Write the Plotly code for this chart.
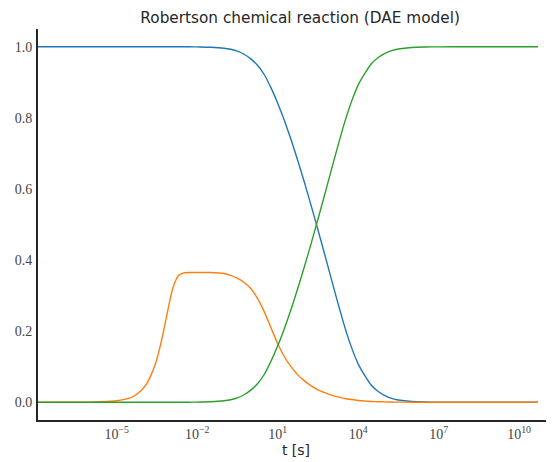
import plotly.graph_objects as go

# log10 of time points [s]
log_t = [-7.93, -7, -6, -5, -4.5, -4.25, -4, -3.85, -3.7, -3.55, -3.4, -3.25, -3.15, -3, -2.9, -2.82,
         -2.7, -2.5, -2.3, -2, -1.5, -1, -0.75, -0.5, -0.25, 0, 0.25, 0.5, 0.75, 1, 1.25, 1.5, 1.75,
         2, 2.25, 2.5, 2.75, 3, 3.25, 3.5, 3.75, 4, 4.25, 4.5, 4.75, 5, 5.25, 5.5,
         6, 6.5, 7, 8, 9, 10, 10.7]
t = [10 ** k for k in log_t]

y1 = [1.0, 1.0, 1.0, 1.0, 1.0, 1.0, 1.0, 1.0, 1.0, 1.0, 1.0, 1.0, 1.0, 1.0, 1.0, 1.0,
      1.0, 1.0, 1.0, 0.9996, 0.9988, 0.996, 0.993, 0.988, 0.979, 0.966, 0.948, 0.922, 0.885, 0.842, 0.793, 0.739, 0.680,
      0.618, 0.553, 0.486, 0.417, 0.347, 0.278, 0.212, 0.155, 0.108, 0.075, 0.047, 0.030, 0.0185, 0.011, 0.0064,
      0.0021, 0.0007, 0.0002, 0.0, 0.0, 0.0, 0.0]

y2_scaled = [0.0, 0.0, 0.0004, 0.004, 0.012, 0.0225, 0.040, 0.056, 0.079, 0.109, 0.150, 0.200, 0.238, 0.292, 0.322, 0.339,
             0.356, 0.364, 0.365, 0.365, 0.365, 0.362, 0.357, 0.349, 0.337, 0.320, 0.292, 0.255, 0.210, 0.165, 0.128, 0.100, 0.077,
             0.060, 0.046, 0.035, 0.027, 0.020, 0.015, 0.0105, 0.0075, 0.0050, 0.0033, 0.0022, 0.0014, 0.0009, 0.0005, 0.0003,
             0.0001, 0.0, 0.0, 0.0, 0.0, 0.0, 0.0]

y3 = [0.0, 0.0, 0.0, 0.0, 0.0, 0.0, 0.0, 0.0, 0.0, 0.0, 0.0, 0.0, 0.0, 0.0, 0.0, 0.0,
      0.0, 0.0, 0.0, 0.0004, 0.0012, 0.004, 0.007, 0.012, 0.021, 0.034, 0.052, 0.078, 0.115, 0.158, 0.207, 0.261, 0.320,
      0.382, 0.447, 0.514, 0.583, 0.653, 0.722, 0.788, 0.845, 0.892, 0.925, 0.953, 0.970, 0.9815, 0.989, 0.9936,
      0.998, 0.9993, 0.9998, 1.0, 1.0, 1.0, 1.0]

x_tickvals = [1e-5, 1e-2, 1e1, 1e4, 1e7, 1e10]
x_ticktext = ["10<sup>−5</sup>", "10<sup>−2</sup>", "10<sup>1</sup>",
              "10<sup>4</sup>", "10<sup>7</sup>", "10<sup>10</sup>"]
y_tickvals = [0.0, 0.2, 0.4, 0.6, 0.8, 1.0]
y_ticktext = ["0.0", "0.2", "0.4", "0.6", "0.8", "1.0"]

colors = ["#1f77b4", "#ff7f0e", "#2ca02c"]

fig = go.Figure()
for ys, c in zip([y1, y2_scaled, y3], colors):
    fig.add_trace(go.Scatter(x=t, y=ys, mode="lines",
                             line=dict(color=c, width=1.4, shape="spline", smoothing=0.5),
                             showlegend=False, hoverinfo="skip"))

# the page body adds an 8px offset, so the figure is sized/margined to compensate
fig.update_layout(
    width=546, height=454,
    margin=dict(l=30, r=0, t=21, b=42),
    paper_bgcolor="white", plot_bgcolor="white",
    title=dict(text="Robertson chemical reaction (DAE model)",
               font=dict(family="DejaVu Sans", size=15.3, color="#262626"),
               x=0.535, xanchor="center", y=0.979, yanchor="middle"),
    showlegend=False,
)
fig.update_xaxes(
    type="log", range=[-7.93, 11.30], automargin=False,
    tickvals=x_tickvals, ticktext=x_ticktext,
    tickfont=dict(family="Liberation Serif", size=14, color="#444444"),
    showgrid=False, zeroline=False, ticks="",
    showline=True, linecolor="#262626", linewidth=2,
    title=dict(text="t [s]", font=dict(family="DejaVu Sans", size=14, color="#262626"), standoff=4),
)
fig.update_yaxes(
    range=[-0.05, 1.05], automargin=False,
    tickvals=y_tickvals, ticktext=y_ticktext,
    tickfont=dict(family="Liberation Serif", size=14, color="#444444"),
    showgrid=False, zeroline=False, ticks="",
    showline=True, linecolor="#262626", linewidth=2,
    ticklabelstandoff=1,
)

fig.write_html("out.html")
